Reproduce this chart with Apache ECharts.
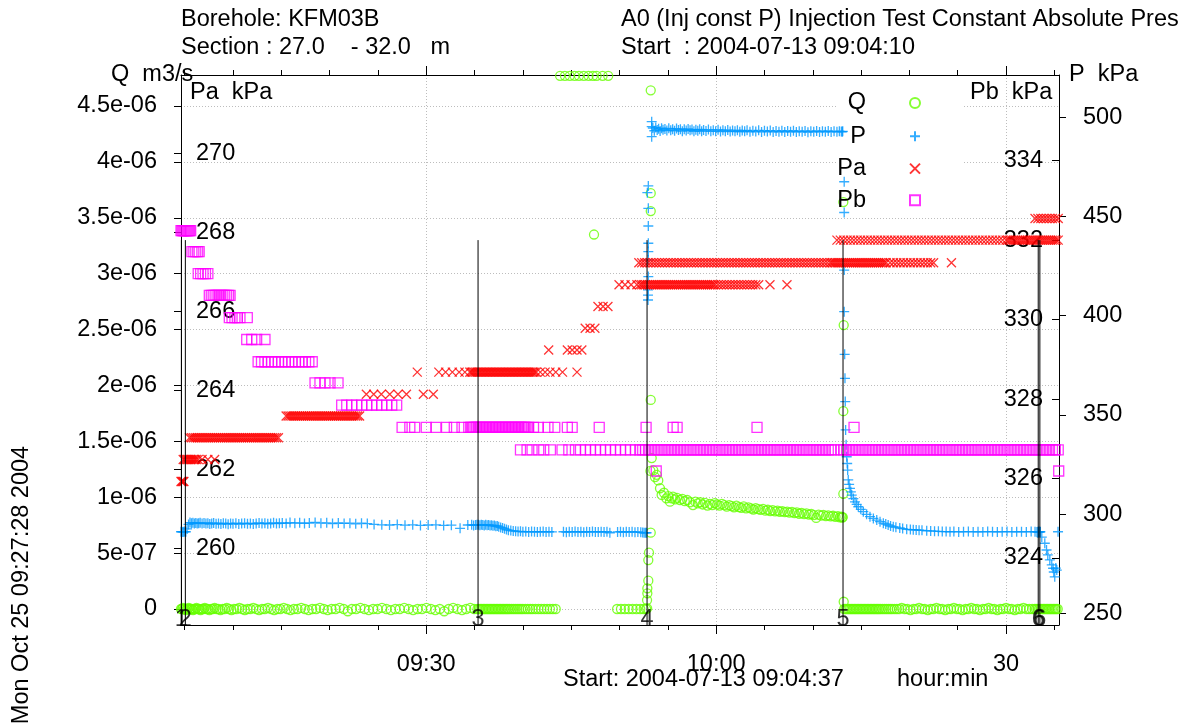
<!DOCTYPE html>
<html><head><meta charset="utf-8">
<script src="https://cdn.jsdelivr.net/npm/echarts@6/dist/echarts.min.js"></script>
<style>html,body{margin:0;padding:0;background:#fff}#c{width:1186px;height:725px}</style>
</head><body><div id="c"></div>
<script>
// ---------------- DATA (time = minutes after 09:00) ----------------
const xMajorTicks = [30, 60, 90];
const xMajorLabels = ['09:30', '10:00', '30'];
const xMinorTicks = [5,10,15,20,25,35,40,45,50,55,65,70,75,80,85,95];
const qTicks = [0,0.5,1,1.5,2,2.5,3,3.5,4,4.5];           // Q in 1e-6 m3/s
const qTickLabels = ['0','5e-07','1e-06','1.5e-06','2e-06','2.5e-06','3e-06','3.5e-06','4e-06','4.5e-06'];
const paTicks = [260,262,264,266,268,270];
const pbTicks = [324,326,328,330,332,334];
const pTicks = [250,300,350,400,450,500];
const eventTimes = [4.66, 5.07, 35.36, 52.85, 73.13, 93.33, 93.5];
const eventLabels = ['1','2','3','4','5','6','6'];
const eventTopQ = 3.30;

const qPoints = [
[4.62,0],[4.72,0],[4.82,.01],[4.92,0],[5.02,0],[5.12,-.01],[5.22,0],[5.32,0],[5.42,.01],[5.52,0],[5.62,0],[5.74,0],[5.86,-.01],[5.98,0],[6.1,0],[6.22,.01],[6.36,0],[6.5,0],[6.64,-.01],[6.78,0],[6.92,0],[7.08,.01],[7.24,0],[7.4,0],[7.56,-.01],[7.74,0],[7.92,0],[8.1,.01],[8.3,0],[8.5,0],[8.7,-.01],[8.92,0],[9.14,0],[9.36,.01],[9.6,0],[9.84,-.01],[10.1,0],[10.38,0],[10.66,.01],[10.94,0],[11.22,-.01],[11.5,0],[11.8,0],[12.1,.01],[12.4,0],[12.7,-.01],[13.0,0],[13.3,0],[13.62,.01],[13.94,0],[14.26,-.01],[14.58,0],[14.9,0],[15.25,.01],[15.6,0],[15.95,-.01],[16.3,0],[16.68,0],[17.06,.01],[17.44,0],[17.82,-.01],[18.2,0],[18.6,0],[19.0,.01],[19.4,0],[19.8,-.01],[20.2,0],[20.62,0],[21.04,.01],[21.46,0],[21.88,-.02],[22.3,0],[22.74,0],[23.18,.01],[23.62,0],[24.06,-.01],[24.5,0],[24.96,0],[25.42,.01],[25.88,0],[26.34,-.01],[26.8,0],[27.26,0],[27.72,.01],[28.18,0],[28.64,-.01],[29.1,0],[29.56,0],[30.02,.01],[30.48,0],[30.94,-.01],[31.4,0],[31.86,-.02],[32.32,0],[32.78,.01],[33.24,0],[33.7,-.01],[34.14,0],[34.56,.01],[34.96,0],[35.3,0],
[35.45,0],[35.6,0],[35.75,0],[35.9,0],[36.05,0],[36.2,0],[36.35,0],[36.5,0],[36.65,0],[36.8,0],[36.95,0],[37.1,0],[37.25,0],[37.4,0],[37.55,0],[37.7,0],[37.85,0],[38.0,0],[38.15,0],[38.3,0],[38.45,0],[38.6,0],[38.8,0],[39.0,0],[39.2,0],[39.4,0],[39.6,0],[39.8,0],[40.0,0],[40.25,0],[40.5,0],[40.75,0],[41.0,0],[41.3,0],[41.6,0],[41.9,0],[42.2,0],[42.5,0],[42.8,0],[43.1,0],[43.4,0],
[43.85,4.77],[44.35,4.77],[44.85,4.77],[45.35,4.77],[45.8,4.77],[46.3,4.77],[46.8,4.77],[47.25,4.77],[47.63,4.77],[48.25,4.77],[48.83,4.77],[47.36,3.35],
[49.75,0],[50.15,0],[50.55,0],[50.95,0],[51.35,0],[51.75,0],[52.15,0],[52.5,0],[52.75,0],
[52.86,.006],[52.85,.08],[52.88,.14],[52.88,.185],[52.98,.253],[52.98,.438],[53.05,.504],[53.23,.683],[53.23,1.87],[53.23,3.56],[53.23,3.72],[53.23,4.64],
[53.2,1.235],[53.33,1.35],[53.5,1.24],[53.67,1.18],[53.85,1.2],[54.01,1.15],[54.19,1.08],[54.36,1.02],[54.6,1.04],[54.85,.99],[55.05,1.01],[55.22,.96],[55.4,.99],[55.53,1.005],[55.75,.98],[55.95,.995],[56.26,.975],[56.5,.985],[56.75,.965],[57.0,.975],[57.3,.955],[57.6,.93],[57.85,.96],[58.1,.945],[58.35,.955],[58.6,.935],[58.85,.95],[59.1,.925],[59.35,.94],[59.6,.93],[59.85,.948],[60.1,.935],[60.35,.925],[60.6,.94],[60.85,.93],[61.1,.915],[61.35,.93],[61.6,.92],[61.85,.91],[62.1,.925],[62.35,.912],[62.6,.905],[62.85,.918],[63.1,.9],[63.35,.91],[63.6,.9],[63.85,.89],[64.1,.903],[64.35,.893],[64.6,.886],[64.85,.895],[65.1,.88],[65.35,.888],[65.6,.876],[65.85,.884],[66.1,.873],[66.35,.88],[66.6,.87],[66.85,.876],[67.1,.866],[67.35,.872],[67.6,.862],[67.85,.868],[68.1,.858],[68.35,.864],[68.6,.852],[68.85,.86],[69.1,.848],[69.35,.855],[69.6,.845],[69.85,.85],[70.1,.84],[70.35,.815],[70.6,.845],[70.85,.835],[71.1,.842],[71.35,.83],[71.6,.838],[71.85,.828],[72.1,.834],[72.35,.824],[72.6,.83],[72.8,.82],[72.95,.826],[73.05,.818],[73.1,.822],
[73.16,3.64],[73.2,2.54],[73.16,1.77],[73.16,1.03],[73.2,.065],
[73.25,0],[73.4,0],[73.55,0],[73.7,0],[73.85,0],[74.0,0],[74.15,0],[74.3,0],[74.45,0],[74.6,0],[74.75,0],[74.9,0],[75.05,0],[75.2,0],[75.35,0],[75.5,0],[75.65,0],[75.8,0],[75.95,0],[76.1,0],[76.25,0],[76.4,0],[76.55,0],[76.7,0],[76.85,0],[77.0,0],[77.2,0],[77.4,0],[77.6,0],[77.8,0],[78.0,0],[78.2,0],[78.45,0],[78.7,0],[78.95,0],[79.2,.01],[79.5,0],[79.8,0],[80.1,-.01],[80.4,0],[80.7,0],[81.0,.01],[81.3,0],[81.6,0],[81.9,-.01],[82.2,0],[82.5,0],[82.8,.01],[83.1,0],[83.4,0],[83.7,-.01],[84.0,0],[84.3,0],[84.6,.01],[84.9,0],[85.2,0],[85.5,-.01],[85.8,0],[86.1,0],[86.4,.01],[86.7,0],[87.0,0],[87.3,-.01],[87.6,0],[87.9,0],[88.2,.01],[88.5,0],[88.8,0],[89.1,-.01],[89.4,0],[89.7,0],[90.0,.01],[90.3,0],[90.6,0],[90.9,-.01],[91.2,0],[91.5,0],[91.8,.01],[92.1,0],[92.4,0],[92.7,0],[92.95,0],[93.1,0],[93.25,0],[93.4,0],[93.55,0],[93.7,0],[93.85,0],[94.0,0],[94.15,0],[94.3,0],[94.45,0],[94.6,0],[94.75,0],[94.9,0],[95.05,0],[95.2,0],[95.35,0]
];

const pPoints = [
[4.62,291.1],[4.72,291.1],[4.82,291.0],[4.92,291.1],[5.02,291.2],[5.12,291.1],[5.25,292.5],[5.4,294.8],[5.55,295.7],[5.7,295.4],[5.85,295.6],[6.0,295.3],[6.15,295.5],[6.3,295.2],[6.45,295.4],[6.6,295.6],[6.8,295.3],[7.0,295.5],[7.2,295.2],[7.4,295.4],[7.6,295.0],[7.8,295.3],[8.0,295.5],[8.25,295.1],[8.5,295.3],[8.75,295.0],[9.0,295.4],[9.25,295.2],[9.5,294.9],[9.75,295.3],[10.0,295.1],[10.3,295.4],[10.6,295.0],[10.9,295.2],[11.2,295.4],[11.5,295.1],[11.8,295.3],[12.1,295.0],[12.4,295.3],[12.7,295.5],[13.0,295.2],[13.3,295.4],[13.6,295.1],[13.9,295.3],[14.2,295.6],[14.5,295.2],[14.8,295.4],[15.1,295.5],[15.5,295.3],[15.9,295.7],[16.4,295.4],[16.9,295.6],[17.4,295.3],[17.9,295.5],[18.5,295.8],[19.1,295.4],[19.7,295.6],[20.3,295.2],[20.9,295.5],[21.5,295.3],[22.1,295.4],[22.7,295.1],[23.3,295.4],[23.9,295.2],[24.6,294.8],[25.4,294.6],[26.2,294.5],[27.0,294.7],[27.8,294.4],[28.6,294.6],[29.4,294.3],[30.2,294.5],[31.0,294.6],[31.8,294.3],[32.6,294.4],[33.5,292.8],[34.3,294.5],[34.7,294.6],[34.9,294.3],[35.1,294.5],[35.25,294.6],
[35.4,294.6],[35.55,294.4],[35.7,294.6],[35.85,294.5],[36.0,294.3],[36.15,294.6],[36.3,294.4],[36.45,294.5],[36.6,294.2],[36.75,294.4],[36.9,294.1],[37.05,294.3],[37.2,293.9],[37.35,294.0],[37.5,293.6],[37.7,293.3],[37.9,293.0],[38.1,292.6],[38.3,292.2],[38.5,291.9],[38.75,291.7],[39.0,291.5],[39.25,291.4],[39.5,291.2],[39.75,291.3],[40.0,291.1],[40.3,291.2],[40.6,291.0],[40.9,291.2],[41.2,291.1],[41.5,291.0],[41.8,291.1],[42.1,291.2],[42.4,291.0],[42.7,291.1],[43.0,291.0],
[44.2,291.1],[44.5,290.9],[44.8,291.1],[45.1,291.0],[45.4,291.2],[45.7,291.0],[46.0,291.1],[46.3,290.9],[46.6,291.1],[46.9,291.0],[47.2,291.2],[47.5,291.0],[47.8,291.0],[48.1,291.1],[48.4,291.0],[48.7,291.1],[49.0,290.6],[49.8,291.0],[50.1,291.1],[50.4,290.9],[50.7,291.1],[51.0,291.0],[51.3,291.1],[51.6,290.9],[51.9,291.0],[52.2,290.8],[52.4,290.7],[52.55,290.6],[52.7,290.6],[52.8,290.6],
[52.88,462.0],[52.95,407.9],[52.95,410.4],[52.95,413.0],[52.98,419.7],[52.98,428.1],[52.98,432.3],[52.98,436.5],[52.98,445.2],[52.98,454.1],[52.98,465.4],[53.33,497.8],[53.33,495.3],[53.33,490.2],
[53.45,494.6],[53.6,493.2],[53.75,494.8],[53.9,493.6],[54.05,494.2],[54.2,493.1],[54.35,494.5],[54.5,493.7],[54.7,494.1],[54.9,493.3],[55.1,494.4],[55.3,493.5],[55.5,494.0],[55.7,493.2],[55.9,494.3],[56.1,493.6],[56.3,494.0],[56.5,493.0],[56.7,493.9],[56.9,493.3],[57.1,494.1],[57.3,493.4],[57.5,493.8],[57.7,492.9],[57.9,493.7],[58.1,493.2],[58.3,493.9],[58.5,493.0],[58.7,493.6],[58.95,493.1],[59.2,493.8],[59.45,492.9],[59.7,493.5],[59.95,493.0],[60.2,493.7],[60.45,492.8],[60.7,493.4],[60.95,493.0],[61.2,493.6],[61.45,492.8],[61.7,493.3],[61.95,492.9],[62.2,493.5],[62.45,492.7],[62.7,493.3],[62.95,492.9],[63.2,493.4],[63.5,492.7],[63.8,493.2],[64.1,492.8],[64.4,493.4],[64.7,492.6],[65.0,493.2],[65.3,492.8],[65.6,493.3],[65.9,492.6],[66.2,493.1],[66.5,492.7],[66.8,493.2],[67.1,492.6],[67.4,493.1],[67.7,492.7],[68.0,493.2],[68.3,492.6],[68.6,493.0],[68.9,492.7],[69.2,493.1],[69.5,492.5],[69.8,493.0],[70.1,492.7],[70.4,493.1],[70.7,492.6],[71.0,493.0],[71.3,492.7],[71.6,493.1],[71.9,492.6],[72.2,492.9],[72.5,492.7],[72.75,493.0],[72.95,492.8],[73.05,492.7],[73.1,492.9],
[73.25,467.5],[73.25,452.0],[73.25,423.0],[73.25,402.0],[73.3,380.5],[73.33,368.4],[73.36,356.7],[73.4,342.4],[73.45,335.0],[73.51,328.9],[73.56,325.5],[73.61,322.2],[73.67,317.2],[73.76,315.0],[73.85,313.0],[73.94,311.2],[74.03,309.6],[74.2,307.8],[74.37,306.2],[74.54,304.9],[74.71,303.7],[74.97,302.4],[75.23,301.2],[75.57,299.9],[75.92,298.7],[76.27,297.8],[76.62,297.0],[76.96,296.2],[77.3,295.4],[77.55,295.0],[77.8,294.5],[78.05,294.0],[78.33,293.6],[78.6,293.4],[79.0,293.0],[79.3,292.7],[79.72,292.3],[80.1,292.2],[80.4,292.1],[80.7,292.0],[81.0,291.9],[81.3,291.8],[81.79,291.6],[82.2,291.5],[82.6,291.4],[83.0,291.3],[83.4,291.2],[83.8,291.2],[84.2,291.1],
[84.6,291.2],[85.1,291.0],[85.6,291.1],[86.1,291.2],[86.6,291.0],[87.1,291.1],[87.6,291.0],[88.1,291.2],[88.6,291.1],[89.1,291.0],[89.6,291.1],[90.1,291.2],[90.6,291.0],[91.1,291.1],[91.6,291.1],[92.1,291.0],[92.6,291.2],[93.0,291.1],[93.2,291.0],
[93.3,291.1],[93.35,291.0],[93.4,291.2],[93.45,291.1],[93.5,291.0],[93.55,291.1],[93.7,288.4],[94.01,285.3],[94.19,281.9],[94.32,279.4],[94.53,276.9],[94.73,274.4],[94.87,272.7],[94.94,270.8],[95.04,268.4],[95.15,272.8],[95.25,271.8],[95.38,291.1]
];

// Pa: quantised levels (kPa) and the times at which each level was logged
const paLevels = [261.69, 262.25, 262.80, 263.35, 263.90, 264.46, 265.02, 265.57, 266.12, 266.67, 267.23, 267.80, 268.35];
const paTimes = [
[4.62,4.72,4.82,4.92],
[4.85,5.0,5.15,5.3,5.45,5.6,5.75,5.9,6.05,6.2,6.4,6.8,7.4,8.1],
[5.5,5.7,5.9,6.1,6.3,6.5,6.7,6.9,7.1,7.3,7.5,7.7,7.9,8.1,8.3,8.5,8.7,8.9,9.1,9.3,9.5,9.7,9.9,10.1,10.3,10.5,10.7,10.9,11.1,11.3,11.5,11.7,11.9,12.1,12.3,12.5,12.7,12.9,13.1,13.3,13.5,13.7,13.9,14.1,14.3,14.5,14.7],
[15.5,15.7,15.9,16.1,16.3,16.5,16.7,16.9,17.1,17.3,17.5,17.7,17.9,18.1,18.3,18.5,18.7,18.9,19.1,19.3,19.5,19.7,19.9,20.1,20.3,20.5,20.7,20.9,21.1,21.3,21.5,21.7,21.9,22.1,22.3,22.5,22.7,22.9,23.1],
[23.8,24.56,25.35,26.22,27.08,27.95,29.7,30.73],
[29.07,31.3,32.0,32.7,33.4,34.0,34.5,34.65,34.8,34.95,35.1,35.25,35.4,35.55,35.7,35.85,36.0,36.15,36.3,36.45,36.6,36.75,36.9,37.05,37.2,37.35,37.5,37.65,37.8,37.95,38.1,38.25,38.4,38.55,38.7,38.85,39.0,39.15,39.3,39.45,39.6,39.75,39.9,40.05,40.2,40.35,40.5,40.65,40.8,40.95,41.1,41.25,41.4,41.8,42.3,42.8,43.4,44.1,45.6],
[42.67,44.6,45.1,45.6,46.1],
[46.45,46.95,47.45],
[47.77,48.3,48.8],
[49.95,50.57,51.2,51.8,52.1,52.3,52.5,52.7,52.9,53.1,53.3,53.5,53.7,53.9,54.1,54.3,54.5,54.7,54.9,55.1,55.3,55.5,55.7,55.9,56.1,56.3,56.5,56.7,56.9,57.1,57.3,57.5,57.7,57.9,58.1,58.3,58.5,58.7,58.9,59.1,59.3,59.5,59.7,59.9,60.2,60.5,60.8,61.1,61.4,61.7,62.0,62.3,62.6,62.9,63.2,63.5,63.8,64.1,64.4,65.57,67.33],
[52.0,52.3,52.6,52.9,53.2,53.5,53.8,54.1,54.4,54.7,55.0,55.3,55.6,55.9,56.2,56.5,56.8,57.1,57.4,57.7,58.0,58.3,58.6,58.9,59.2,59.5,59.8,60.1,60.4,60.7,61.0,61.3,61.6,61.9,62.2,62.5,62.8,63.1,63.4,63.7,64.0,64.3,64.6,64.9,65.2,65.5,65.8,66.1,66.4,66.7,67.0,67.3,67.6,67.9,68.2,68.5,68.8,69.1,69.4,69.7,70.0,70.3,70.6,70.9,71.2,71.5,71.8,72.0,72.2,72.4,72.6,72.8,73.0,73.2,73.4,73.6,73.8,74.0,74.2,74.4,74.6,74.8,75.0,75.2,75.4,75.6,75.8,76.0,76.2,76.4,76.6,76.8,77.0,77.2,77.4,77.6,78.0,78.35,78.7,79.05,79.4,79.75,80.1,80.45,80.8,81.15,81.5,81.85,82.2,82.5,84.35],
[72.5,72.85,73.2,73.55,73.9,74.25,74.6,74.95,75.3,75.65,76.0,76.35,76.7,77.05,77.4,77.75,78.1,78.45,78.8,79.15,79.5,79.85,80.2,80.55,80.9,81.25,81.6,81.95,82.3,82.65,83.0,83.35,83.7,84.05,84.4,84.75,85.1,85.45,85.8,86.15,86.5,86.85,87.2,87.55,87.9,88.25,88.6,88.95,89.3,89.65,90.0,90.2,90.4,90.6,90.8,91.0,91.2,91.4,91.6,91.8,92.0,92.2,92.4,92.6,92.8,93.0,93.2,93.4,93.6,93.8,94.0,94.2,94.4,94.6,94.8,95.0,95.2,95.4],
[93.0,93.3,93.6,93.9,94.2,94.5,94.8,95.1,95.4]
];

// Pb: quantised levels (kPa) and the times at which each level was logged
const pbLevels = [332.24, 331.71, 331.16, 330.61, 330.05, 329.50, 328.94, 328.41, 327.85, 327.29, 326.72, 326.19];
const pbTimes = [
[4.62,4.72,4.82,4.92,5.02,5.12,5.22,5.32,5.42,5.52,5.62],
[5.75,5.95,6.15,6.35,6.5],
[6.4,6.65,6.9,7.15,7.4],
[7.55,7.75,7.95,8.15,8.35,8.55,8.75,8.95,9.15,9.35,9.55,9.7],
[9.62,9.9,10.2,10.45,10.72,11.48],
[11.42,11.94,12.45,13.31],
[12.6,12.95,13.3,13.65,14.0,14.35,14.7,15.05,15.4,15.75,16.1,16.45,16.8,17.15,17.5,17.85,18.2],
[18.49,19.0,19.52,20.04,20.87],
[21.25,21.77,22.29,22.8,23.32,23.84,24.36,24.87,25.39,25.91,26.43,26.94],
[27.5,28.3,28.8,30.0,31.0,32.1,32.9,33.7,34.4,34.6,34.75,34.9,35.05,35.2,35.35,35.5,35.65,35.8,35.95,36.1,36.25,36.4,36.55,36.7,36.85,37.0,37.15,37.3,37.45,37.6,37.75,37.9,38.05,38.2,38.35,38.5,38.65,38.8,38.95,39.1,39.25,39.4,39.55,39.7,39.85,40.0,40.15,40.3,40.45,40.6,41.1,41.6,42.6,43.3,44.6,45.1,47.9,52.75,55.55,55.96,64.23,74.27],
[39.75,40.43,40.95,41.64,42.16,42.85,44.05,44.75,45.44,45.96,46.48,46.99,47.51,48.03,48.55,49.07,49.58,50.1,50.62,51.14,51.65,52.1,52.4,52.7,53.0,53.3,53.6,53.9,54.2,54.5,54.8,55.1,55.4,55.7,56.0,56.3,56.6,56.9,57.2,57.5,57.8,58.1,58.4,58.7,59.0,59.3,59.6,59.9,60.2,60.5,60.8,61.1,61.4,61.7,62.0,62.3,62.6,62.9,63.2,63.5,63.8,64.1,64.4,64.7,65.0,65.3,65.6,65.9,66.2,66.5,66.8,67.1,67.4,67.7,68.0,68.3,68.6,68.9,69.2,69.5,69.8,70.1,70.4,70.7,71.0,71.3,71.6,71.9,72.2,72.9,73.2,73.5,73.8,74.1,74.4,74.7,75.0,75.3,75.6,75.9,76.2,76.5,76.8,77.1,77.4,77.7,78.0,78.3,78.6,78.9,79.2,79.5,79.8,80.1,80.4,80.7,81.0,81.3,81.6,81.9,82.2,82.5,82.8,83.1,83.4,83.7,84.0,84.3,84.6,84.9,85.2,85.5,85.8,86.1,86.4,86.7,87.0,87.3,87.6,87.9,88.2,88.5,88.8,89.1,89.4,89.7,90.0,90.3,90.6,90.9,91.2,91.5,91.8,92.1,92.4,92.7,93.0,93.3,93.6,93.9,94.2,94.5,94.8,95.1,95.4],
[53.8,95.45]
];

// ---------------- CHART ----------------
const FONT = '"Liberation Sans", Arial, Helvetica, sans-serif';
const FS = 23.5;
const X_MIN = 4.62, X_MAX = 95.48;
const Q_COL = '#66ff00', P_COL = '#0099ff', PA_COL = '#ff0000', PB_COL = '#ff00ff';
const PLUS = 'path://M0,5L10,5M5,0L5,10';
const CROSS = 'path://M0,0L10,10M10,0L0,10';
const BW = 1.3;

const pick = (vals, labels) => v => { const i = vals.findIndex(u => Math.abs(u - v) < 1e-6); return i < 0 ? '' : labels[i]; };
const fromLevels = (levels, times) => times.flatMap((ts, i) => ts.map(t => [t, levels[i]]));
const paPoints = fromLevels(paLevels, paTimes);
const pbPoints = fromLevels(pbLevels, pbTimes);

const lbl = {fontFamily: FONT, fontSize: FS, color: '#000'};
const black = {color: '#000', width: 1};
const baseX = {type: 'value', min: X_MIN, max: X_MAX, gridIndex: 0};

const chart = echarts.init(document.getElementById('c'));

function txt(text, x, y, align, rot) {
  return {type: 'text', x: x, y: y, rotation: rot || 0, z: 10, silent: true,
    style: {text: text, font: FS + 'px ' + FONT, fill: '#000',
      textAlign: align || 'left', textVerticalAlign: 'middle', align: align || 'left', verticalAlign: 'middle'}};
}

const eventSeries = eventTimes.map(t => ({
  type: 'line', xAxisIndex: 0, yAxisIndex: 0, data: [[t, -0.1431], [t, eventTopQ]],
  symbol: 'none', lineStyle: black, silent: true, z: 3, animation: false
}));

const legendNames = ['Q', 'P', 'Pa', 'Pb'];
const legendTops = [91, 124.3, 156.6, 188.3];

const option = {
  animation: false,
  backgroundColor: '#fff',
  grid: {left: 181, right: 127, top: 75, bottom: 100, containLabel: false, outerBoundsMode: 'none'},
  legend: legendNames.map((n, i) => ({
    data: [n], orient: 'vertical', right: 265, top: legendTops[i], align: 'right',
    itemWidth: 10, itemHeight: 10, itemGap: 0, padding: 0, selectedMode: false,
    textStyle: {fontFamily: FONT, fontSize: FS, color: '#000', padding: [0, 39, 0, 0]}
  })),
  xAxis: [
    Object.assign({}, baseX, {position: 'bottom',
      axisLine: {show: true, onZero: false, lineStyle: black},
      axisTick: {show: true, customValues: xMajorTicks, length: 9, lineStyle: black},
      axisLabel: Object.assign({show: true, customValues: xMajorTicks, formatter: pick(xMajorTicks, xMajorLabels), margin: 28}, lbl),
      splitLine: {show: true, lineStyle: {color: '#bdbdbd', type: [1, 2], width: 1}}}),
    Object.assign({}, baseX, {position: 'bottom',
      axisLine: {show: false, onZero: false},
      axisTick: {show: true, customValues: xMinorTicks, length: 5, lineStyle: black},
      axisLabel: {show: false}, splitLine: {show: false}}),
    Object.assign({}, baseX, {position: 'top',
      axisLine: {show: true, onZero: false, lineStyle: black},
      axisTick: {show: true, customValues: xMajorTicks, length: 9, lineStyle: black},
      axisLabel: {show: false}, splitLine: {show: false}}),
    Object.assign({}, baseX, {position: 'top',
      axisLine: {show: false, onZero: false},
      axisTick: {show: true, customValues: xMinorTicks, length: 5, lineStyle: black},
      axisLabel: {show: false}, splitLine: {show: false}})
  ],
  yAxis: [
    {type: 'value', position: 'left', min: -0.1431, max: 4.777,
      axisLine: {show: true, onZero: false, lineStyle: black},
      axisTick: {show: true, customValues: qTicks, length: 7, lineStyle: black},
      axisLabel: Object.assign({customValues: qTicks, formatter: pick(qTicks, qTickLabels), margin: 24}, lbl),
      splitLine: {show: true, lineStyle: {color: '#bdbdbd', type: [1, 2], width: 1}}},
    {type: 'value', position: 'left', min: 258.06, max: 271.98,
      axisLine: {show: false, onZero: false},
      axisTick: {show: true, customValues: paTicks, length: 7, lineStyle: black},
      axisLabel: Object.assign({customValues: paTicks, inside: true, margin: 15}, lbl),
      splitLine: {show: false}},
    {type: 'value', position: 'right', min: 322.314, max: 336.157,
      axisLine: {show: false, onZero: false},
      axisTick: {show: true, inside: true, customValues: pbTicks, length: 7, lineStyle: black},
      axisLabel: Object.assign({customValues: pbTicks, inside: true, margin: 16}, lbl),
      splitLine: {show: false}},
    {type: 'value', position: 'right', min: 244.1, max: 521.3,
      axisLine: {show: true, onZero: false, lineStyle: black},
      axisTick: {show: true, customValues: pTicks, length: 7, lineStyle: black},
      axisLabel: Object.assign({customValues: pTicks, margin: 24}, lbl),
      splitLine: {show: false}}
  ],
  graphic: {elements: [
    {type: 'rect', shape: {x: 837, y: 84, width: 126, height: 130}, style: {fill: '#fff'}, z: 1, silent: true},
    txt('Borehole: KFM03B', 181, 20),
    txt('Section : 27.0    - 32.0   m', 181, 48),
    txt('A0 (Inj const P) Injection Test Constant Absolute Pres', 621, 20),
    txt('Start  : 2004-07-13 09:04:10', 621, 48),
    txt('Q  m3/s', 111, 75),
    txt('Pa  kPa', 190, 93),
    txt('Pb  kPa', 970, 93),
    txt('P  kPa', 1069, 75),
    txt('Start: 2004-07-13 09:04:37', 563, 680),
    txt('hour:min', 897, 680),
    txt('Mon Oct 25 09:27:28 2004', 22, 585, 'center', Math.PI / 2)
  ]},
  series: [
    {name: 'Q', type: 'scatter', xAxisIndex: 0, yAxisIndex: 0, data: qPoints, symbol: 'circle', symbolSize: 9,
      itemStyle: {color: 'rgba(0,0,0,0)', borderColor: Q_COL, borderWidth: BW}, emphasis: {disabled: true}, z: 2},
    {name: 'P', type: 'scatter', xAxisIndex: 0, yAxisIndex: 3, data: pPoints, symbol: PLUS, symbolSize: 10,
      itemStyle: {color: P_COL, borderColor: P_COL, borderWidth: BW}, emphasis: {disabled: true}, z: 2},
    {name: 'Pa', type: 'scatter', xAxisIndex: 0, yAxisIndex: 1, data: paPoints, symbol: CROSS, symbolSize: 9,
      itemStyle: {color: PA_COL, borderColor: PA_COL, borderWidth: BW}, emphasis: {disabled: true}, z: 2},
    {name: 'Pb', type: 'scatter', xAxisIndex: 0, yAxisIndex: 2, data: pbPoints, symbol: 'rect', symbolSize: 10,
      itemStyle: {color: 'rgba(0,0,0,0)', borderColor: PB_COL, borderWidth: BW}, emphasis: {disabled: true}, z: 2},
    ...eventSeries,
    {type: 'scatter', xAxisIndex: 0, yAxisIndex: 0, data: eventTimes.map(t => [t, -0.098]), symbolSize: 1,
      itemStyle: {color: 'rgba(0,0,0,0)'}, silent: true, z: 4,
      label: Object.assign({show: true, position: 'inside', formatter: p => eventLabels[p.dataIndex]}, lbl)}
  ]
};
chart.setOption(option);
</script>
</body></html>
